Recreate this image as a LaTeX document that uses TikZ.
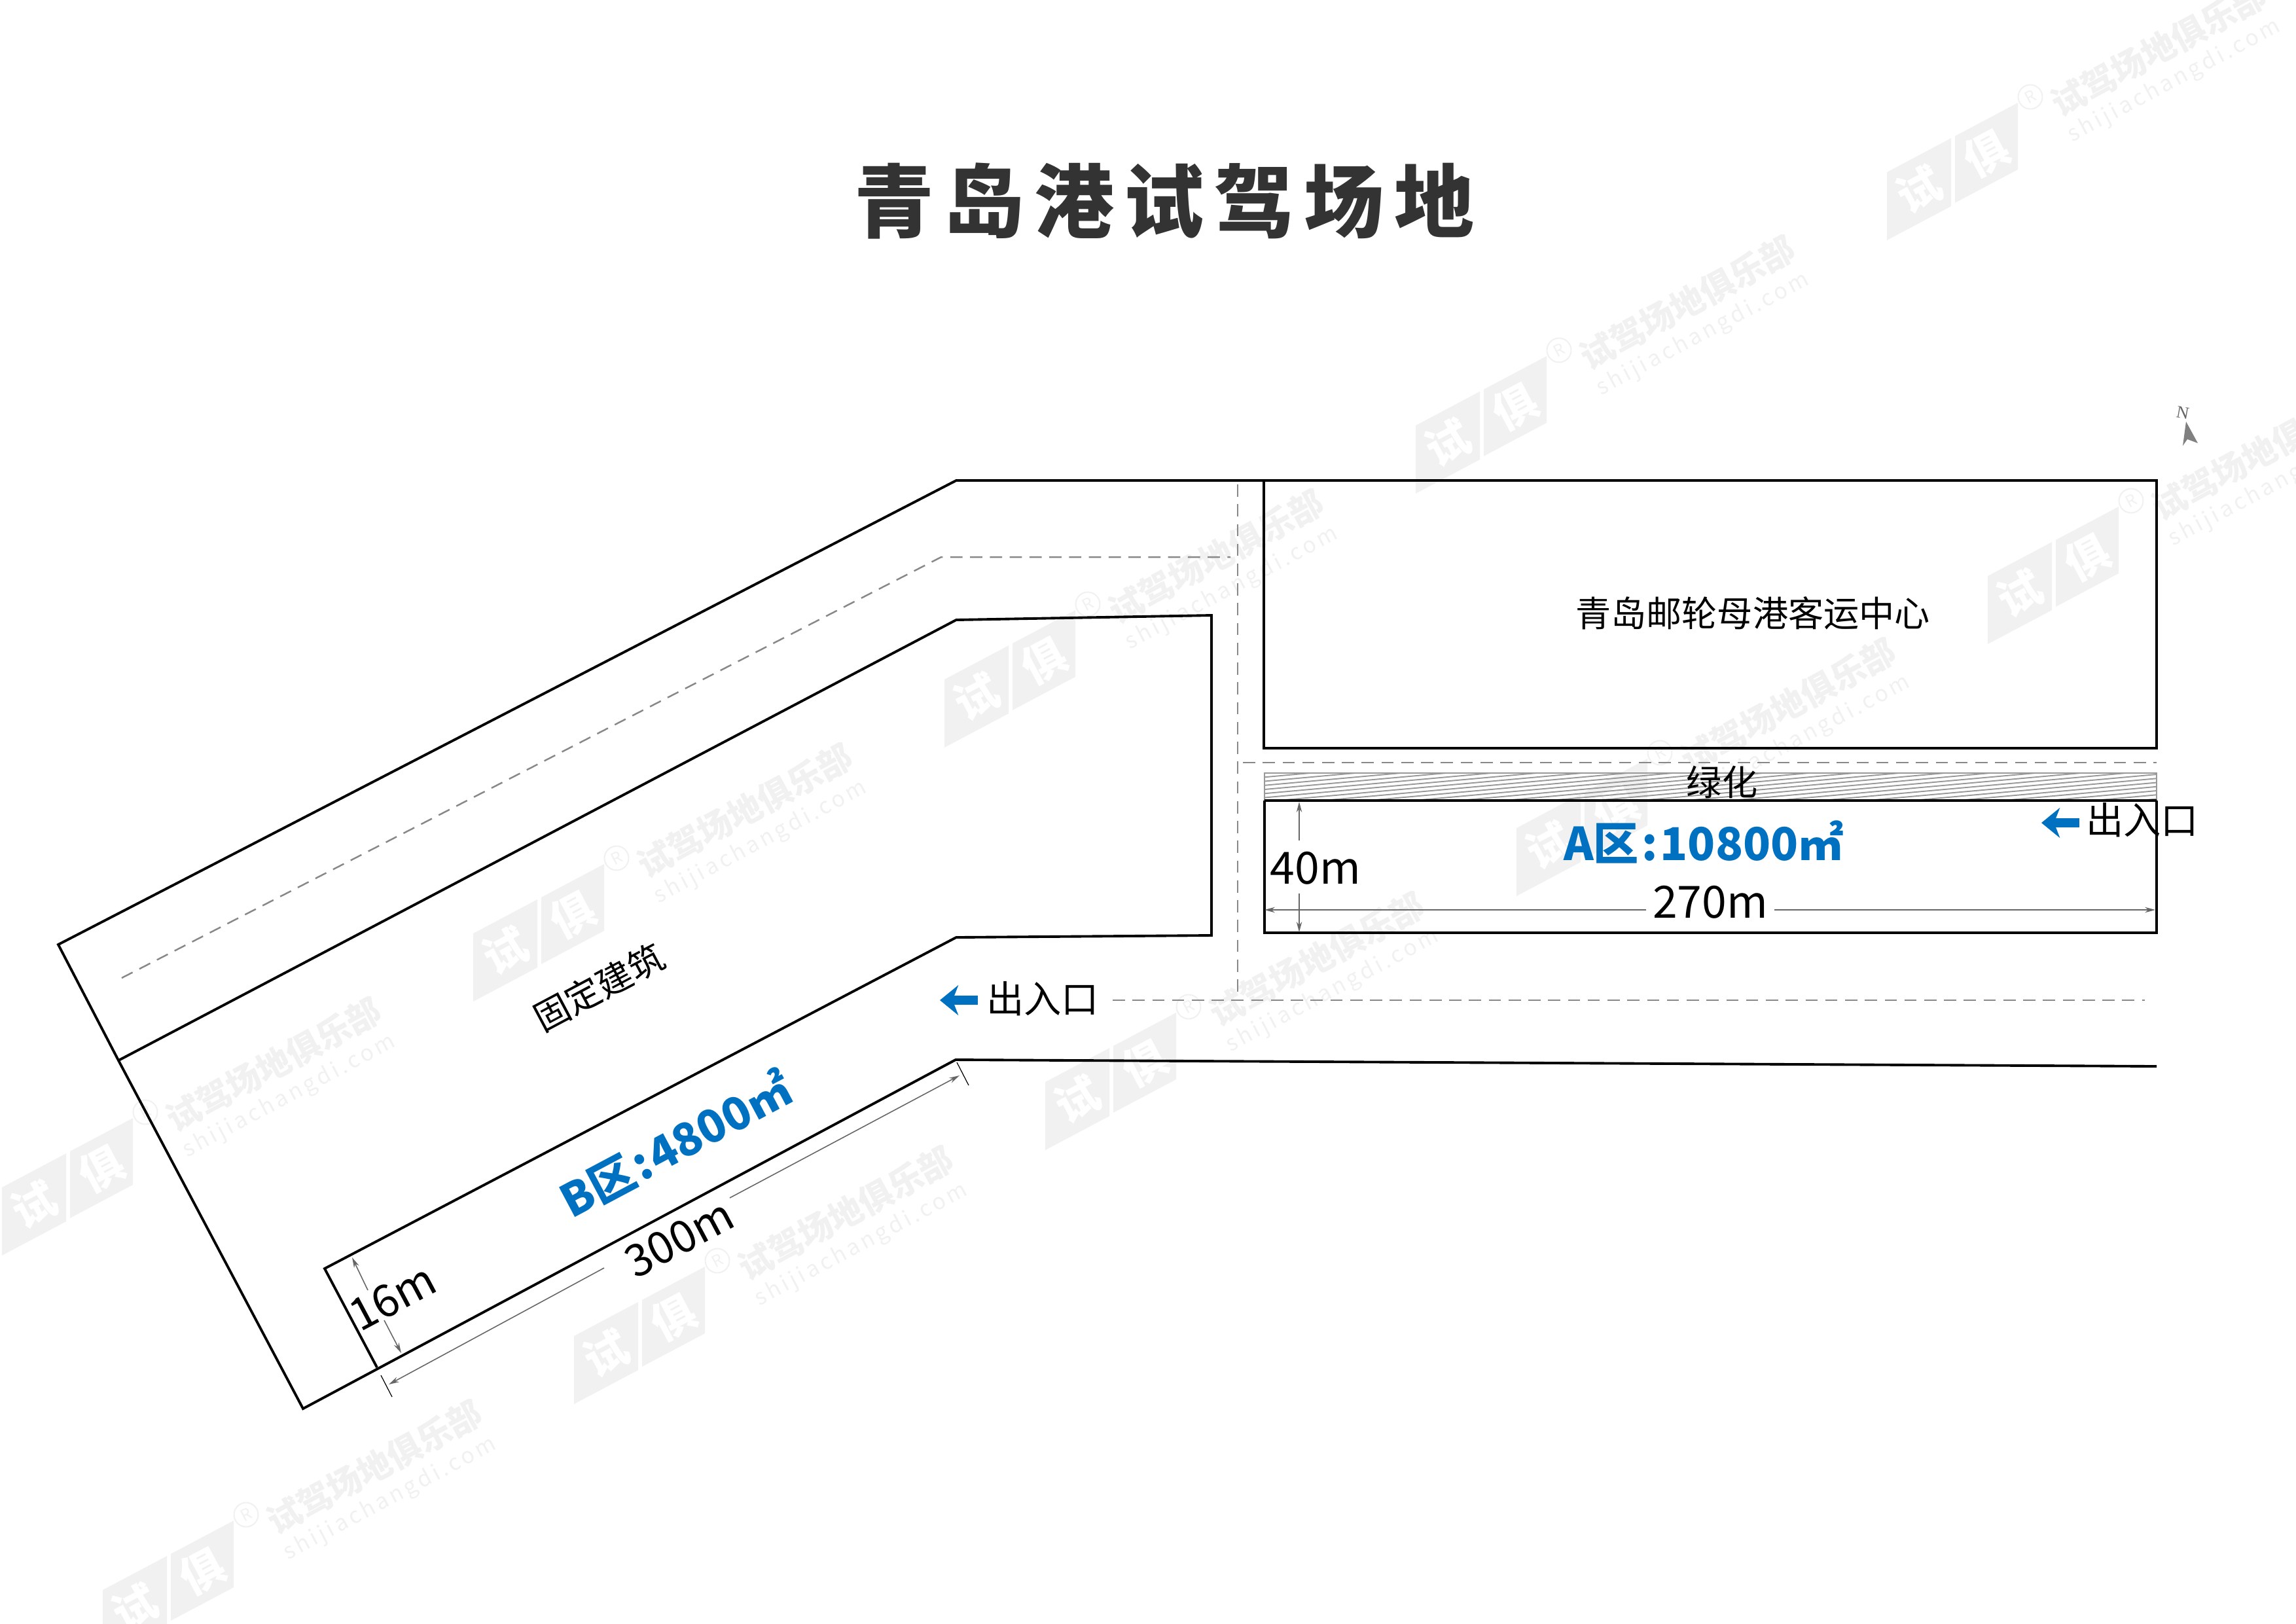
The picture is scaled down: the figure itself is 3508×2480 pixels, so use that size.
\documentclass[tikz,border=0pt]{standalone}
\usepackage{fontspec}
\setmainfont{Noto Sans CJK SC}
\newfontfamily\northfont{Liberation Serif}
\usetikzlibrary{arrows.meta}
\definecolor{zoneblue}{HTML}{0070C0}
\definecolor{titlegray}{HTML}{333333}
\definecolor{dashgray}{HTML}{888888}
\definecolor{dimgray}{HTML}{666666}
\definecolor{markgray}{HTML}{F1F1F1}
\newcommand*\setpx[1]{\fontsize{#1}{#1}\selectfont}
\newcommand*\zonecolon{\kern1.2pt:\kern1.2pt}
\tikzset{
    plotline/.style = {draw=black, line width=1.1pt, line join=miter},
    roadline/.style = {draw=dashgray, line width=0.7pt, dash pattern=on 5.3pt off 3.3pt},
    hatchline/.style= {draw=black!40, line width=0.55pt},
    dimline/.style  = {draw=dimgray, line width=0.45pt, -{Stealth[length=4.5pt,width=2.4pt]}},
    tickline/.style = {draw=black, line width=0.35pt},
    label/.style    = {inner sep=0pt, outer sep=0pt, font=\setpx{15.4}},
    dimlabel/.style = {inner sep=0pt, outer sep=0pt, font=\setpx{19.3}},
    zonelabel/.style= {inner sep=0pt, outer sep=0pt, text=zoneblue, font=\bfseries\setpx{19.7}},
    gatearrow/.style= {draw=zoneblue, line width=4pt, -{Stealth[length=8pt,width=13pt,inset=2.5pt]}},
    marklogo/.style = {inner sep=0pt, rotate=28, text=white, font=\bfseries\setpx{19}},
    marktext/.style = {inner sep=0pt, rotate=28.5, text=markgray, font=\bfseries\setpx{14.8}},
    markurl/.style  = {inner sep=0pt, rotate=28, text=markgray, font=\addfontfeature{LetterSpace=14}\setpx{9.6}},
    markring/.style = {circle, draw=markgray, line width=0.6pt, minimum size=10.5pt, inner sep=0pt,
                       rotate=28, text=markgray, font=\setpx{7}},
}
% one watermark: logo, ring, name and address
\newcommand*\markunit[3]{%
    \begin{scope}[shift={(#1,#2)}]
        \begin{scope}[yslant=0.53]
            \fill[markgray] (-100,-52) rectangle (-2,52);
            \fill[markgray] (4,-52) rectangle (100,50);
            \node[marklogo] (#3-a) at (-51,0) {试};
            \node[marklogo] (#3-b) at (52,0) {俱};
        \end{scope}
        \node[markring] (#3-r) at (119,-114) {R};
        \node[marktext] (#3-t) at (315,-187) {试驾场地俱乐部};
        \node[markurl] (#3-u) at (339,-138) {shijiachangdi.com};
    \end{scope}}

\begin{document}
\begin{tikzpicture}[x=0.01cm,y=-0.01cm]
    \clip (0,0) rectangle (3508,2480);

    % Watermarks go under everything
    \foreach \mx/\my [count=\i from 1] in {2983/262,2263/649,3137/879,1543/1037,823/1425,
            103/1813,2417/1264,1697/1652,977/2040,257/2428} {
        \markunit{\mx}{\my}{mark\i}
    }

    % Title
    \node[inner sep=0pt, text=titlegray, font=\bfseries\setpx{34.7}\addfontfeature{LetterSpace=12.7}]
        (title) at (1779,307) {青岛港试驾场地};

    % North arrow
    \node[inner sep=0pt, rotate=-10, text=dimgray, font=\northfont\setpx{7.5}] (north) at (3335,631) {N};
    \fill[black!50] (3340,644) -- (3358,677) -- (3342,671) -- (3335,681) -- cycle;

    % Green strip
    \begin{scope}
        \clip (1932,1181) rectangle (3295,1223);
        \foreach \yy in {1181,1187.25,...,1350} {
            \draw[hatchline] (1932,\yy) -- (3295,\yy-123);
        }
    \end{scope}
    \draw[draw=black!40, line width=0.7pt] (1932,1223) -- (1932,1181) -- (3295,1181) -- (3295,1223);

    % Site outline and buildings
    \draw[plotline] (1931,734) -- (1931,1143) -- (3295,1143) -- (3295,734) -- (1461,734)
        -- (89,1443) -- (181,1620) -- (463,2152) -- (1460,1619) -- (3295,1629);
    \draw[plotline] (181,1620) -- (1461,947) -- (1851,940) -- (1851,1429) -- (1461,1432)
        -- (496,1938) -- (576,2089);
    \draw[plotline, line width=1.4pt] (1932,1223) -- (3295,1223);
    \draw[plotline, line width=0.9pt] (1932,1223) -- (1932,1425) -- (3295,1425) -- (3295,1223);

    % Roads
    \draw[roadline] (186,1494) -- (1438,851) -- (1880,851);
    \draw[roadline] (1891,740) -- (1891,1516);
    \draw[roadline] (1899,1165) -- (3295,1165);
    \draw[roadline] (1700,1528) -- (3277,1528);

    % Zone A dimensions
    \node[dimlabel] (aheight) at (2010,1326) {40m};
    \node[dimlabel, inner xsep=2.8pt] (awidth) at (2613,1378) {270m};
    \coordinate (atop) at (1985,1284);
    \coordinate (abot) at (1985,1365);
    \coordinate (aleft) at (1932,1390);
    \coordinate (aright) at (3293,1390);
    \draw[dimline] (atop) -- (1985,1225);
    \draw[dimline] (abot) -- (1985,1424);
    \draw[dimline] (aleft -| awidth.west) -- (aleft);
    \draw[dimline] (aright -| awidth.east) -- (aright);

    % Zone B dimensions
    \node[dimlabel, rotate=28] (bheight) at (600,1982) {16m};
    \node[dimlabel, rotate=28] (blength) at (1038,1892) {300m};
    \draw[dimline] (562,1971) -- (538,1921);
    \draw[dimline] (587,2017) -- (613,2067);
    \draw[dimline] (1115,1830) -- (1466,1643);
    \draw[dimline] (923,1937) -- (594,2115);
    \draw[tickline] (1462,1623) -- (1480,1658);
    \draw[tickline] (582,2101) -- (599,2134);

    % Labels
    \node[label] (terminal) at (2678,937) {青岛邮轮母港客运中心};
    \node[label] (green) at (2631,1195) {绿化};
    \node[label, rotate=28] (fixed) at (915,1508) {固定建筑};
    \node[zonelabel] (zonea) at (2603,1286) {A区\zonecolon 10800㎡};
    \node[zonelabel, rotate=28] (zoneb) at (1032,1747) {B区\zonecolon 4800㎡};

    % Entrances
    \node[label, font=\setpx{16.3}] (gatea) at (3273,1253) {出入口};
    \node[label, font=\setpx{16.3}] (gateb) at (1593,1526) {出入口};
    \coordinate (gateatail) at (3177,1257);
    \coordinate (gatebtail) at (1494,1528);
    \draw[gatearrow] (gateatail) -- (3119,1257);
    \draw[gatearrow] (gatebtail) -- (1436,1528);
\end{tikzpicture}
\end{document}
